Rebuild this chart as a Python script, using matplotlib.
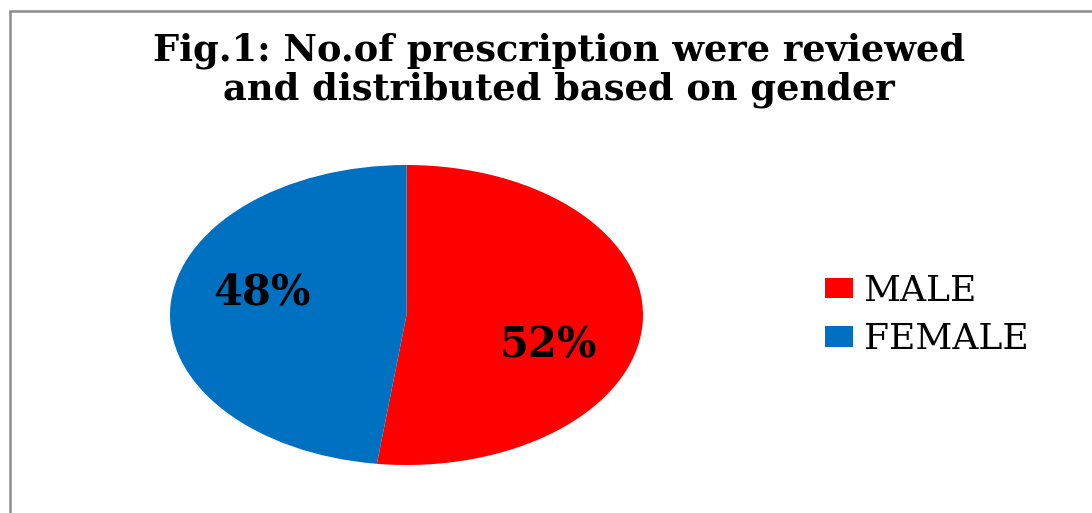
import matplotlib
matplotlib.use("Agg")
import matplotlib.pyplot as plt
from matplotlib.patches import Rectangle

categories = ["MALE", "FEMALE"]
values = [52, 48]
colors = ["#FF0000", "#0070C0"]
title = "Fig.1: No.of prescription were reviewed\nand distributed based on gender"

W, H = 1092, 513
fig = plt.figure(figsize=(W / 100, H / 100), dpi=100)
fig.patch.set_facecolor("white")

# border (right and bottom sides fall outside the image)
fig.patches.append(Rectangle((10 / W, -0.05), 1.2, (H - 11) / H + 0.05,
                             transform=fig.transFigure, fill=False,
                             edgecolor="#8c8c8c", linewidth=1.8))

# pie axes stretched horizontally
ax = fig.add_axes([170 / W, (H - 465) / H, (643 - 170) / W, 300 / H])
wedges, _ = ax.pie(values, colors=colors, startangle=90, counterclock=False,
                   wedgeprops=dict(linewidth=0))
ax.set_aspect("auto")
ax.set_xlim(-1, 1)
ax.set_ylim(-1, 1)
ax.axis("off")

lab_font = dict(family="DejaVu Serif", weight="bold", size=30, color="black")
ax.text(0.60, -0.2, f"{values[0]}%", ha="center", va="center", **lab_font)
ax.text(-0.61, 0.15, f"{values[1]}%", ha="center", va="center", **lab_font)

fig.text(559 / W, 1 - 70 / H, title, ha="center", va="center",
         family="DejaVu Serif", weight="bold", size=26.5, linespacing=1.1)

leg = fig.legend(wedges, categories, loc="center left",
                 bbox_to_anchor=(792 / W, 1 - 315 / H), frameon=False,
                 prop=dict(family="DejaVu Serif", size=26),
                 handlelength=0.8, handleheight=0.5, handletextpad=0.28,
                 labelspacing=0.4)

fig.savefig("out.png", dpi=100, facecolor="white")
